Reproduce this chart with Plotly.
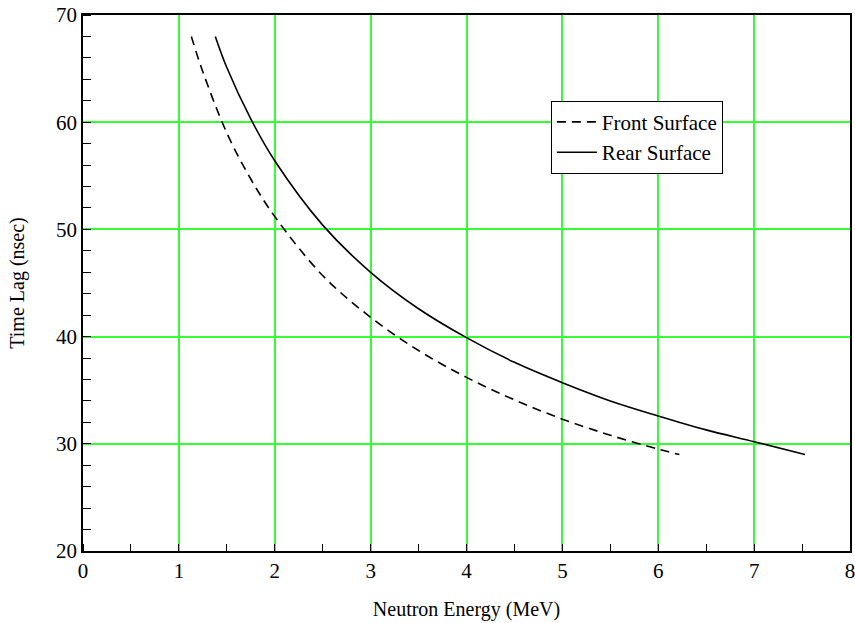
import plotly.graph_objects as go

front_x = [1.13, 1.25, 1.5, 1.75, 2.0, 2.5, 3.0, 3.5, 4.0, 4.5, 5.0, 5.5, 6.0, 6.22]
front_y = [68.0, 64.7, 59.0, 54.7, 51.2, 45.7, 41.8, 38.7, 36.2, 34.1, 32.3, 30.8, 29.5, 29.0]

rear_x = [1.38, 1.5, 1.75, 2.0, 2.5, 3.0, 3.5, 4.0, 4.5, 5.0, 5.5, 6.0, 6.5, 7.0, 7.53]
rear_y = [68.0, 65.1, 60.3, 56.4, 50.4, 46.0, 42.6, 39.9, 37.6, 35.7, 34.0, 32.6, 31.3, 30.2, 29.0]

x_ticks = [0, 1, 2, 3, 4, 5, 6, 7, 8]
y_ticks = [20, 30, 40, 50, 60, 70]

FONT = "Liberation Serif, Times New Roman, serif"

fig = go.Figure()
fig.add_trace(go.Scatter(x=front_x, y=front_y, mode="lines", name="Front Surface",
                         line=dict(color="black", width=1.6, dash="9px,6px", shape="spline")))
fig.add_trace(go.Scatter(x=rear_x, y=rear_y, mode="lines", name="Rear Surface",
                         line=dict(color="black", width=1.6, shape="spline")))

axis_common = dict(showline=True, linecolor="black", linewidth=1.5, mirror=True,
                   showgrid=True, gridcolor="#33ff33", gridwidth=1.8, zeroline=False,
                   ticks="", automargin=False, ticklabeloverflow="allow",
                   tickfont=dict(family=FONT, size=21, color="black"))

fig.update_xaxes(range=[0, 8], tickvals=x_ticks, ticktext=[str(v) for v in x_ticks],
                 title=dict(text="Neutron Energy (MeV)", font=dict(family=FONT, size=20, color="black"), standoff=20),
                 minor=dict(dtick=0.5, tick0=0, ticks="inside", ticklen=7, tickcolor="black", showgrid=False),
                 **axis_common)
fig.update_yaxes(range=[20, 70], tickvals=y_ticks, ticktext=[str(v) for v in y_ticks],
                 title=dict(text="Time Lag (nsec)", font=dict(family=FONT, size=20, color="black"), standoff=26),
                 minor=dict(dtick=2, tick0=20, ticks="inside", ticklen=8, tickcolor="black", showgrid=False),
                 **axis_common)

fig.update_layout(
    width=855, height=623,
    margin=dict(l=83, r=5, t=15, b=72),
    plot_bgcolor="white", paper_bgcolor="white",
    font=dict(family=FONT, color="black"),
    legend=dict(x=0.61, y=0.84, xanchor="left", yanchor="top",
                bordercolor="black", borderwidth=1, bgcolor="white",
                font=dict(family=FONT, size=21, color="black"),
                tracegroupgap=0, itemwidth=40),
    showlegend=True,
)

fig.write_html("out.html", config={"displayModeBar": False},
               post_script="document.body.style.margin='0';document.body.style.overflow='hidden';")
